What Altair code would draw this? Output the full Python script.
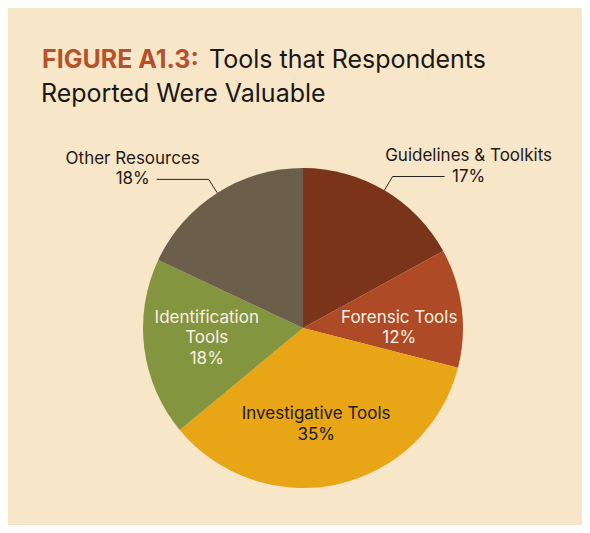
import math
import altair as alt
import pandas as pd

# ---- data ----
categories = ["Guidelines & Toolkits", "Forensic Tools", "Investigative Tools",
              "Identification Tools", "Other Resources"]
values = [17, 12, 35, 18, 18]
label_names = [["Guidelines & Toolkits"], ["Forensic Tools"], ["Investigative Tools"],
               ["Identification", "Tools"], ["Other Resources"]]
placement = ["outside", "inside", "inside", "inside", "outside"]

# ---- styles / layout ----
colors = ["#7A3419", "#AE4A25", "#E8A516", "#84953F", "#6B5E4B"]
inner_text_colors = {"Forensic Tools": "#FBF0E4", "Investigative Tools": "#1E1A16",
                     "Identification Tools": "#FBF0E4"}
BG = "#F8E6C9"
FONT = "Inter"
W, H = 574, 517
CX, CY, R = 295, 320, 160
R_IN = 97
R_ELBOW = 176
HLEN = 52
LINE_H = 20.5
nudges = {"Forensic Tools": (0, 12), "Investigative Tools": (-8, 2), "Identification Tools": (0, -2)}

# ---- geometry from data ----
total = sum(values)
rows_text, rows_line = [], []
cum = 0
for i, (cat, v) in enumerate(zip(categories, values)):
    mid = (cum + v / 2) / total * 2 * math.pi
    cum += v
    s, c = math.sin(mid), math.cos(mid)
    lines = label_names[i] + [f"{v}%"]
    if placement[i] == "inside":
        nx, ny = nudges.get(cat, (0, 0))
        lx, ly = CX + R_IN * s + nx, CY - R_IN * c + ny
        n = len(lines)
        for k, t in enumerate(lines):
            rows_text.append({"t": t, "x": lx, "y": ly + (k - (n - 1) / 2) * LINE_H,
                              "col": inner_text_colors[cat]})
    else:
        side = 1 if s > 0 else -1
        p0 = (CX + R * s, CY - R * c)
        p1 = (CX + R_ELBOW * s, CY - R_ELBOW * c)
        p2 = (p1[0] + side * HLEN, p1[1])
        for k, p in enumerate([p0, p1, p2]):
            rows_line.append({"cat": cat, "k": k, "x": p[0], "y": p[1]})
        lx = p2[0] + side * 24
        rows_text.append({"t": lines[0], "x": lx, "y": p1[1] - LINE_H, "col": "#1E1A16"})
        rows_text.append({"t": lines[1], "x": lx, "y": p1[1], "col": "#1E1A16"})

df = pd.DataFrame({"category": categories, "value": values, "idx": list(range(len(values)))})
df_text = pd.DataFrame(rows_text)
df_line = pd.DataFrame(rows_line)

xs = alt.Scale(domain=[0, W], nice=False, zero=False)
ys = alt.Scale(domain=[0, H], nice=False, zero=False, reverse=True)

arcs = alt.Chart(df).mark_arc(outerRadius=R).encode(
    theta=alt.Theta("value:Q", stack=True),
    order=alt.Order("idx:Q"),
    color=alt.Color("category:N", scale=alt.Scale(domain=categories, range=colors), legend=None),
    x=alt.value(CX),
    y=alt.value(CY),
)

leaders = alt.Chart(df_line).mark_line(color="#2A2420", strokeWidth=1).encode(
    x=alt.X("x:Q", scale=xs, axis=None),
    y=alt.Y("y:Q", scale=ys, axis=None),
    detail="cat:N",
    order="k:Q",
)

labels = alt.Chart(df_text).mark_text(font=FONT, fontSize=17, baseline="middle", align="center").encode(
    x=alt.X("x:Q", scale=xs, axis=None),
    y=alt.Y("y:Q", scale=ys, axis=None),
    text="t:N",
    color=alt.Color("col:N", scale=None),
)

title_df = pd.DataFrame({"a": [0]})
t1 = alt.Chart(title_df).mark_text(text="FIGURE A1.3:", font=FONT, fontSize=25, fontWeight="bold",
                                   color="#B5522A", align="left", baseline="alphabetic").encode(
    x=alt.value(34), y=alt.value(59.5))
t2 = alt.Chart(title_df).mark_text(text="Tools that Respondents", font=FONT, fontSize=25,
                                   color="#1A1714", align="left", baseline="alphabetic").encode(
    x=alt.value(201), y=alt.value(59.5))
t3 = alt.Chart(title_df).mark_text(text="Reported Were Valuable", font=FONT, fontSize=25,
                                   color="#1A1714", align="left", baseline="alphabetic").encode(
    x=alt.value(33), y=alt.value(93.5))

chart = alt.layer(arcs, leaders, labels, t1, t2, t3).properties(
    width=W, height=H, background=BG, padding=0,
    autosize=alt.AutoSizeParams(type="fit", contains="padding"),
).configure_view(stroke=None)

chart.save("out.html", embed_options={"renderer": "svg", "actions": False})
